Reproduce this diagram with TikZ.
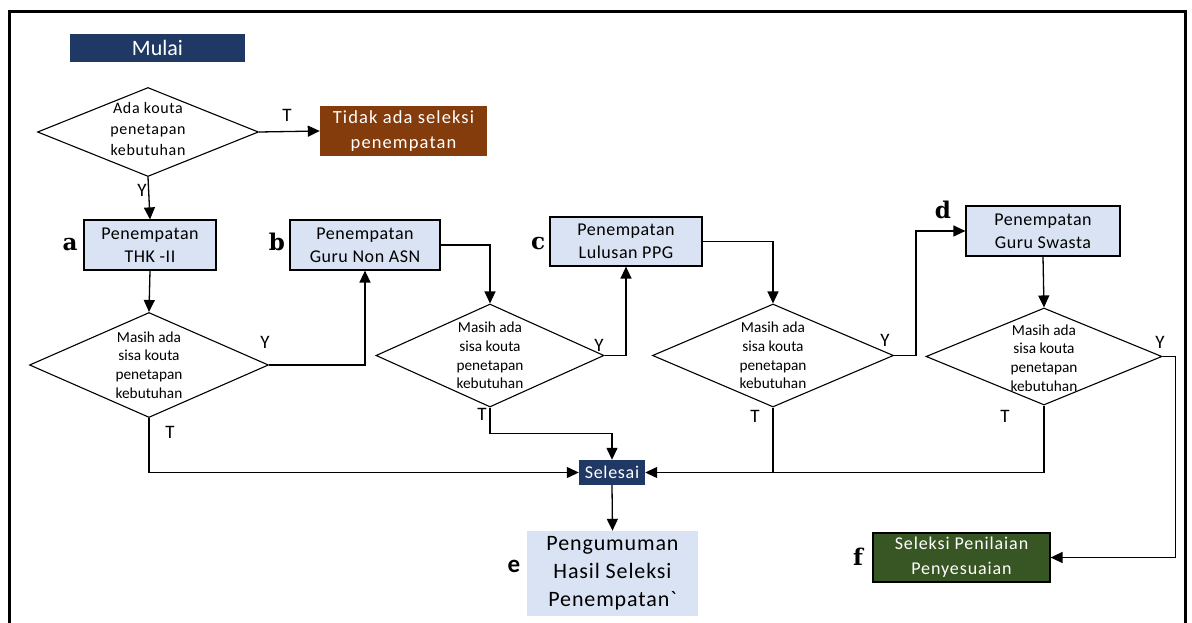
\documentclass[tikz,border=0pt]{standalone}
\usepackage{fontspec}
\setmainfont{Carlito}
\newfontfamily\slabfont{DejaVu Serif}
\usetikzlibrary{shapes.geometric,arrows.meta}
\definecolor{navy}{HTML}{203864}
\definecolor{brownbox}{HTML}{843C0C}
\definecolor{lightblue}{HTML}{DAE3F3}
\definecolor{greenbox}{HTML}{375623}
\tikzset{
  arr/.style={line width=1.3pt,-{Triangle[length=12pt,width=11pt]}},
  ln/.style={line width=1.3pt},
  procbox/.style={draw=black,line width=1.2pt,fill=lightblue,align=center,inner sep=0pt,
     font=\fontsize{18}{23}\selectfont\addfontfeatures{LetterSpace=3}},
  dia/.style={diamond,draw=black,line width=1.1pt,inner sep=0pt},
  ditext/.style={align=center,font=\fontsize{15.3}{18.7}\selectfont},
  yt/.style={font=\fontsize{19}{22}\selectfont,inner sep=0pt},
  letter/.style={font=\fontsize{23}{23}\selectfont\slabfont\bfseries,inner sep=0pt},
}
\begin{document}
\begin{tikzpicture}[x=1pt,y=-1pt]
\useasboundingbox (0,0) rectangle (1192,623);
% frame
\draw[line width=3pt] (9,640) -- (9,12) -- (1185,12) -- (1185,640);
% Start
\node[fill=navy,text=white,minimum width=175pt,minimum height=28pt,inner sep=0pt,
  font=\fontsize{22}{24}\selectfont] (mulai) at (157.5,48) {Mulai};
% first decision
\node[dia,minimum width=221pt,minimum height=89pt] (d1) at (148,132) {};
\node[align=center,font=\fontsize{16}{21}\selectfont\addfontfeatures{LetterSpace=4}] (d1t) at (148,129) {Ada kouta\\penetapan\\kebutuhan};
\node[fill=brownbox,text=white,minimum width=167pt,minimum height=50pt,inner sep=0pt,align=center,
  font=\fontsize{18.5}{25}\selectfont\addfontfeatures{LetterSpace=6}] (tidak) at (403.5,131) {Tidak ada seleksi\\penempatan};
% process boxes
\node[procbox,minimum width=132pt,minimum height=50pt] (a) at (150,245) {Penempatan\\THK -II};
\node[procbox,minimum width=150pt,minimum height=50pt] (b) at (365,245) {Penempatan\\Guru Non ASN};
\node[procbox,minimum width=152pt,minimum height=49pt] (c) at (626,241.5) {Penempatan\\Lulusan PPG};
\node[procbox,minimum width=154pt,minimum height=50pt] (d) at (1043,231) {Penempatan\\Guru Swasta};
% labels
\node[letter] (la) at (70,245) {a};
\node[letter] (lb) at (277,242) {b};
\node[letter] (lc) at (538,244) {c};
\node[letter] (ld) at (943,210) {d};
\node[letter] (lf) at (858,557) {f};
\node[font=\fontsize{25}{25}\selectfont\bfseries,inner sep=0pt] (le) at (514,566) {e};
% decisions
\node[dia,minimum width=239pt,minimum height=105pt] (da) at (149,365) {};
\node[ditext] (dat) at (da) {Masih ada\\sisa kouta\\penetapan\\kebutuhan};
\node[dia,minimum width=228pt,minimum height=103pt] (db) at (490,355.5) {};
\node[ditext] (dbt) at (db) {Masih ada\\sisa kouta\\penetapan\\kebutuhan};
\node[dia,minimum width=241pt,minimum height=103pt] (dc) at (773,355.5) {};
\node[ditext] (dct) at (dc) {Masih ada\\sisa kouta\\penetapan\\kebutuhan};
\node[dia,minimum width=236pt,minimum height=97pt] (dd) at (1044,356.5) {};
\node[ditext] (ddt) at (1044,358) {Masih ada\\sisa kouta\\penetapan\\kebutuhan};
% end
\node[fill=navy,text=white,minimum width=66pt,minimum height=25pt,inner sep=0pt,
  font=\fontsize{18}{20}\selectfont\addfontfeatures{LetterSpace=4}] (sel) at (612,472.5) {Selesai};
\node[fill=lightblue,minimum width=171pt,minimum height=85pt,inner sep=0pt,align=center,
  font=\fontsize{22}{28}\selectfont\addfontfeatures{LetterSpace=4,Ligatures=TeXOff}] (e) at (612.5,573.5) {Pengumuman\\Hasil Seleksi\\Penempatan`};
\node[fill=greenbox,draw=black,line width=1.2pt,text=white,minimum width=177pt,minimum height=49pt,inner sep=0pt,align=center,
  font=\fontsize{18}{25}\selectfont\addfontfeatures{LetterSpace=5}] (f) at (961.5,557.5) {Seleksi Penilaian\\Penyesuaian};
% connectors
\draw[arr] (d1.east) -- (tidak.west);
\node[yt] (t1) at (287,115) {T};
\draw[arr] (d1.south) -- (a.north);
\node[yt] (y1) at (142,190) {Y};
\draw[arr] (a.south) -- (da.north);
\draw[arr] (da.east) -| (b.south);
\node[yt] (ya) at (265,342) {Y};
\draw[arr] (b.east) -| (db.north);
\draw[arr] (db.east) -| (c.south);
\node[yt] (yb) at (599,345) {Y};
\draw[arr] (c.east) -| (dc.north);
\draw[arr] (dc.east) -- ++(22,0) coordinate (cd1) |- (d.west);
\node[yt] (yc) at (885,340) {Y};
\draw[arr] (d.south) -- (dd.north);
\draw[arr] (dd.east) -- ++(13,0) coordinate (df1) |- (f.east);
\node[yt] (yd) at (1160,342) {Y};
\draw[arr] (da.south) |- (sel.west);
\node[yt] (ta) at (170,432) {T};
\draw[arr] (db.south) -- ++(0,26) coordinate (bs1) -| (sel.north);
\node[yt] (tb) at (482,414) {T};
\draw[arr] (dc.south) |- (sel.east);
\node[yt] (tc) at (755,416) {T};
\coordinate (join) at (dc.south |- sel.east);
\draw[ln] (dd.south) |- (join);
\node[yt] (td) at (1005,416) {T};
\draw[arr] (sel.south) -- (e.north);
\end{tikzpicture}
\end{document}
